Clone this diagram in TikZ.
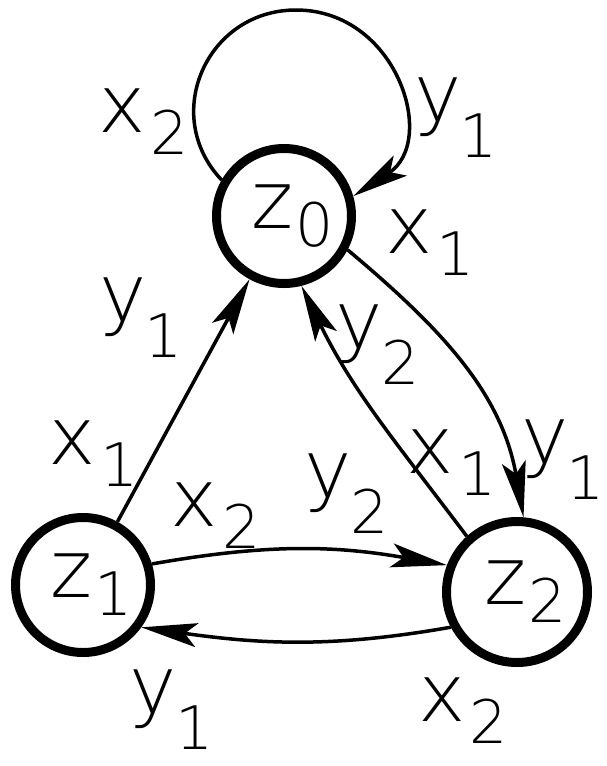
\documentclass[tikz,border=0pt]{standalone}
\usepackage{fontspec}
\newfontfamily\lblfont{DejaVu Sans}[UprightFont={* ExtraLight}]
\usetikzlibrary{arrows.meta}
\newcommand\myletter{\lblfont\fontsize{80}{80}\selectfont}
\newcommand\mydigit{\lblfont\fontsize{60}{60}\selectfont}
\newcommand\labx[2]{{\myletter #1}\kern4pt\raisebox{-22pt}{\mydigit #2}}
\newcommand\laby[2]{{\myletter #1}\kern-2pt\raisebox{-36pt}{\mydigit #2}}
\newcommand\zstate[1]{\kern18pt{\myletter z}\kern2pt\raisebox{-18pt}{\mydigit #1}}
\begin{document}
\begin{tikzpicture}[x=1pt,y=1pt,
  state/.style={circle,draw,line width=9pt,minimum size=135pt,inner sep=0pt},
  edge/.style={line width=3.5pt},
  arr/.style={edge,-{Stealth[length=56pt,width=24pt,inset=12pt]}},
  lab/.style={inner sep=0pt}]
\useasboundingbox (0,0) rectangle (606,-766);
\node[state] (z0) at (284,-216) {\zstate{0}};
\node[state] (z1) at (83,-585) {\zstate{1}};
\node[state,minimum size=141pt] (z2) at (517,-592) {\zstate{2}};
\draw[arr] (z0.150) .. controls (160,-115) and (207,-10) .. (296,-10) .. controls (397,-10) and (438,-141) .. (z0.16);
\draw[arr] (z1) -- (z0);
\draw[arr] (z0.-28) to[out=-40,in=100] (z2.85);
\draw[arr] (z2.132) to[out=127,in=-64] (z0.-76);
\draw[arr] (z1.17) to[out=10,in=170] (z2.159);
\draw[arr] (z2.208) to[out=190,in=-8] (z1.-36);
\node[lab] (l1) at (143.5,-121.5) {\labx{x}{2}};
\node[lab] (l2) at (456,-118) {\laby{y}{1}};
\node[lab] (l3) at (430,-243) {\labx{x}{1}};
\node[lab] (l4) at (141,-317.5) {\laby{y}{1}};
\node[lab] (l5) at (377.5,-345) {\laby{y}{2}};
\node[lab] (l6) at (93.5,-454) {\labx{x}{1}};
\node[lab] (l7) at (451.5,-462.5) {\labx{x}{1}};
\node[lab] (l8) at (563,-460) {\laby{y}{1}};
\node[lab] (l9) at (215.5,-516) {\labx{x}{2}};
\node[lab] (l10) at (346.5,-493.5) {\laby{y}{2}};
\node[lab] (l11) at (171.5,-710) {\laby{y}{1}};
\node[lab] (l12) at (463,-711) {\labx{x}{2}};
\end{tikzpicture}
\end{document}
